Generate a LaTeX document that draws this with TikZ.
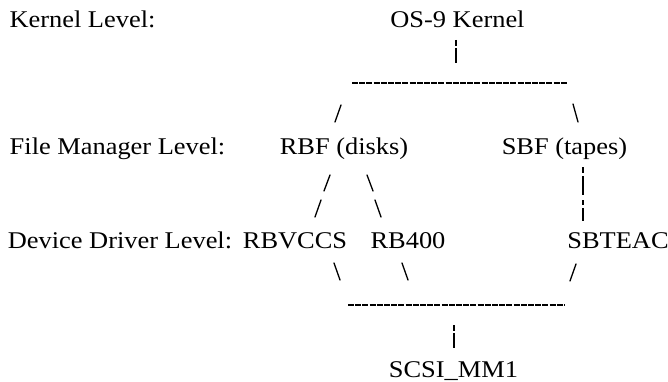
\documentclass[tikz,border=0pt]{standalone}
\usepackage{fontspec}
\setmainfont[FakeStretch=1.1]{Liberation Serif}
\begin{document}
\begin{tikzpicture}[x=1pt,y=-1pt,
  lbl/.style={anchor=base, inner sep=0pt, font=\fontsize{24}{28}\selectfont},
  slashline/.style={line width=1.3pt, line cap=round},
  barline/.style={line width=1.1pt},
  dashbar/.style={line width=2pt, dash pattern=on 6pt off 1.2pt}]
\useasboundingbox (0,0) rectangle (668,382);
% text nodes
\node[lbl] (kl)  at (82.5,28)  {Kernel Level:};
\node[lbl] (os9) at (457.5,28) {OS-9 Kernel};
\node[lbl] (fml) at (117.5,154) {File Manager Level:};
\node[lbl] (rbf) at (344,154)  {RBF (disks)};
\node[lbl] (sbf) at (564.5,154) {SBF (tapes)};
\node[lbl] (ddl) at (120,248)  {Device Driver Level:};
\node[lbl] (rbv) at (295,248)  {RBVCCS};
\node[lbl] (rb4) at (408,248)  {RB400};
\node[lbl] (sbt) at (618,248)  {SBTEAC};
\node[lbl] (scsi) at (453.5,377) {SCSI\_MM1};
% coordinates of the ascii strokes
\coordinate (k1a) at (456,40); \coordinate (k1b) at (456,46);
\coordinate (k1c) at (456,48); \coordinate (k1d) at (456,63);
\coordinate (t1a) at (352,83); \coordinate (t1b) at (567,83);
\coordinate (s1a) at (341,105); \coordinate (s1b) at (335,122);
\coordinate (s2a) at (573,104); \coordinate (s2b) at (578,122);
\coordinate (r1a) at (330,175); \coordinate (r1b) at (324,191);
\coordinate (r2a) at (367,175); \coordinate (r2b) at (373,191);
\coordinate (r3a) at (321,200); \coordinate (r3b) at (315,217);
\coordinate (r4a) at (375,200); \coordinate (r4b) at (381,217);
\coordinate (p1a) at (583,167); \coordinate (p1b) at (583,173);
\coordinate (p1c) at (583,176); \coordinate (p1d) at (583,195);
\coordinate (p2a) at (583,200); \coordinate (p2b) at (583,205);
\coordinate (p2c) at (583,208); \coordinate (p2d) at (583,221);
\coordinate (d1a) at (334,263); \coordinate (d1b) at (340,280);
\coordinate (d2a) at (402,263); \coordinate (d2b) at (408,280);
\coordinate (d3a) at (576,264); \coordinate (d3b) at (570,281);
\coordinate (t2a) at (348,305); \coordinate (t2b) at (565,305);
\coordinate (m1a) at (454,325); \coordinate (m1b) at (454,331);
\coordinate (m1c) at (454,333); \coordinate (m1d) at (454,348);
% strokes
\draw[barline] (k1a) -- (k1b) (k1c) -- (k1d);
\draw[dashbar] (t1a) -- (t1b);
\draw[slashline] (s1a) -- (s1b);
\draw[slashline] (s2a) -- (s2b);
\draw[slashline] (r1a) -- (r1b);
\draw[slashline] (r2a) -- (r2b);
\draw[slashline] (r3a) -- (r3b);
\draw[slashline] (r4a) -- (r4b);
\draw[barline] (p1a) -- (p1b) (p1c) -- (p1d);
\draw[barline] (p2a) -- (p2b) (p2c) -- (p2d);
\draw[slashline] (d1a) -- (d1b);
\draw[slashline] (d2a) -- (d2b);
\draw[slashline] (d3a) -- (d3b);
\draw[dashbar] (t2a) -- (t2b);
\draw[barline] (m1a) -- (m1b) (m1c) -- (m1d);
\end{tikzpicture}
\end{document}
